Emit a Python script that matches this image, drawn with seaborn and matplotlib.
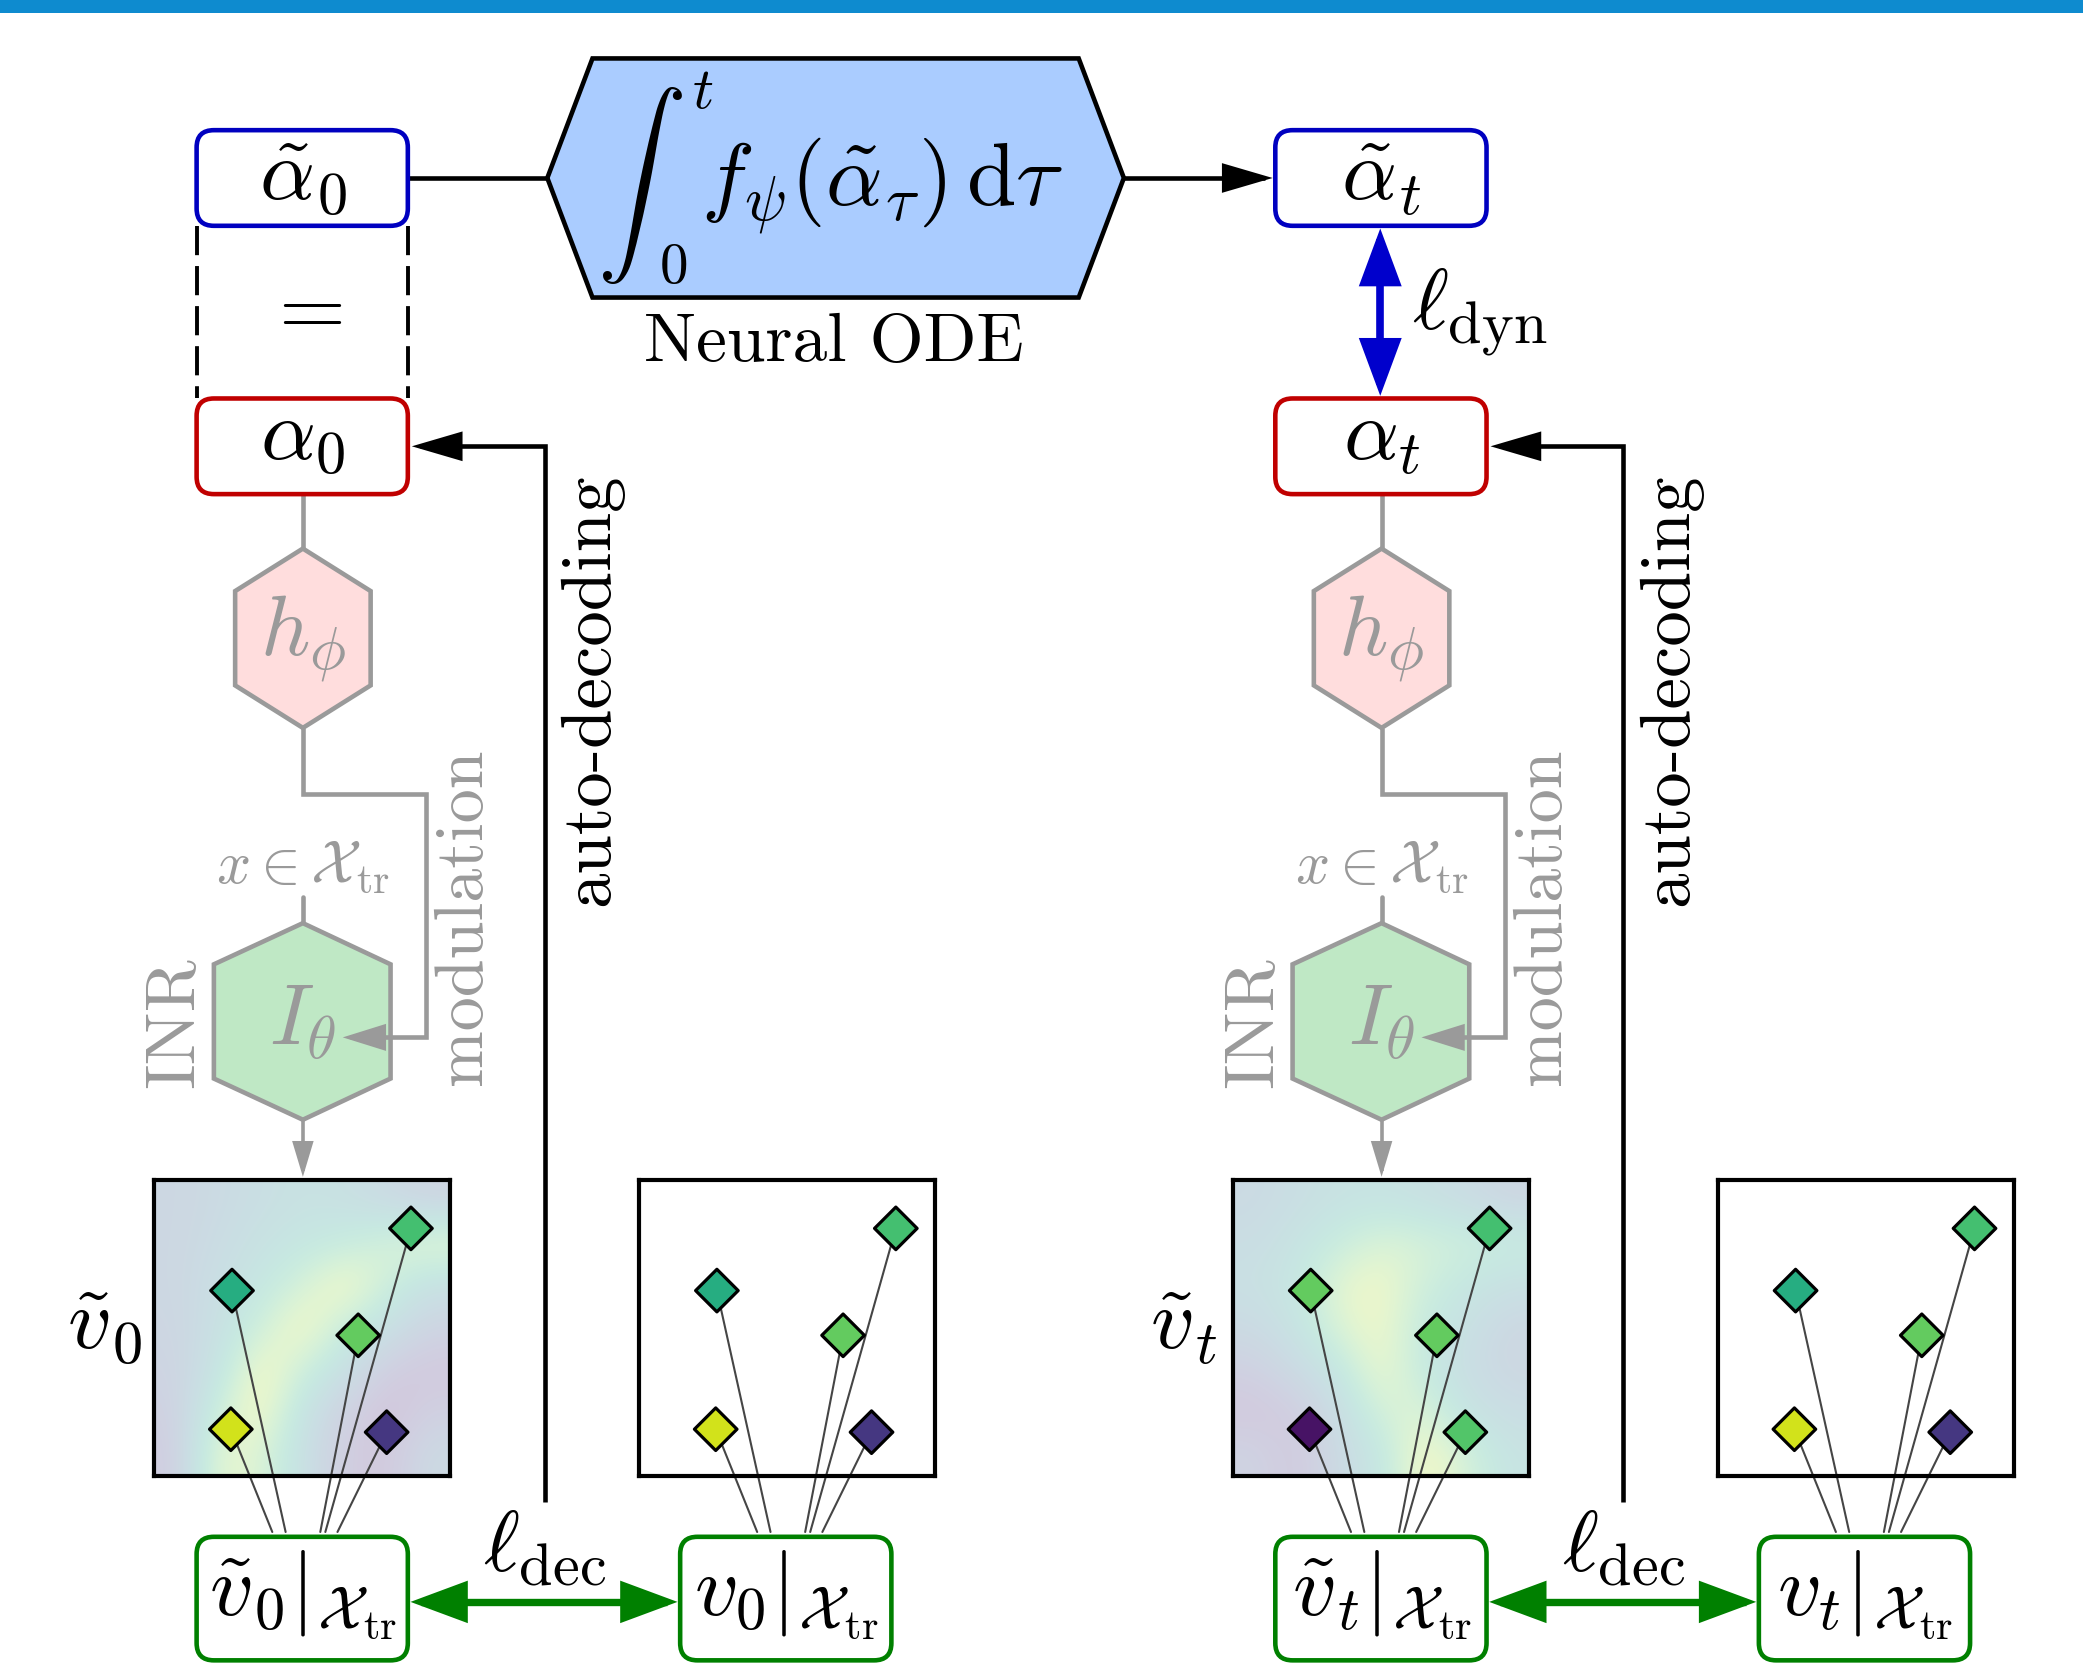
import matplotlib
matplotlib.use('Agg')
import matplotlib.pyplot as plt
from matplotlib.patches import FancyBboxPatch, Polygon, FancyArrowPatch, Rectangle, ArrowStyle
from matplotlib.path import Path
import numpy as np
import pandas as pd
import seaborn as sns

sns.set_theme(style='white')
plt.rcParams['font.family'] = ['cmr10', 'DejaVu Serif']
plt.rcParams['mathtext.fontset'] = 'cm'
plt.rcParams['axes.formatter.use_mathtext'] = True

# --- dati: posizioni dei punti di osservazione e valori (scala viridis 0..1) ---
point_x = [0.263, 0.867, 0.689, 0.259, 0.785]
point_y = [0.625, 0.835, 0.474, 0.157, 0.147]
v0_true = [0.62, 0.70, 0.76, 0.93, 0.16]
v0_pred = [0.62, 0.70, 0.76, 0.93, 0.16]
vt_true = [0.62, 0.70, 0.76, 0.93, 0.16]
vt_pred = [0.76, 0.70, 0.76, 0.05, 0.73]

# campo ricostruito (griglia grossolana, righe dall'alto verso il basso)
field_0 = [[0.30, 0.35, 0.42, 0.48, 0.45, 0.35, 0.25],
           [0.30, 0.38, 0.48, 0.55, 0.62, 0.75, 0.88],
           [0.30, 0.42, 0.55, 0.75, 0.98, 0.70, 0.45],
           [0.28, 0.45, 0.70, 0.98, 0.65, 0.45, 0.25],
           [0.25, 0.50, 0.98, 0.70, 0.45, 0.15, 0.10],
           [0.20, 0.70, 0.98, 0.50, 0.20, 0.05, 0.20],
           [0.15, 0.88, 0.80, 0.45, 0.15, 0.10, 0.35]]
field_t = [[0.35, 0.42, 0.48, 0.50, 0.45, 0.38, 0.28],
           [0.40, 0.50, 0.65, 0.80, 0.75, 0.70, 0.65],
           [0.45, 0.55, 0.85, 0.92, 0.70, 0.55, 0.45],
           [0.35, 0.50, 0.80, 0.92, 0.60, 0.45, 0.30],
           [0.20, 0.35, 0.55, 0.92, 0.60, 0.40, 0.30],
           [0.10, 0.15, 0.40, 0.75, 0.80, 0.50, 0.40],
           [0.25, 0.10, 0.35, 0.55, 0.98, 0.75, 0.50]]

# estremi delle linee sul box sotto il pannello (frazione del pannello)
link_x = [0.444, 0.578, 0.561, 0.399, 0.619]
link_y = -0.19

W, H = 1568, 1252
DX = 812
BIG = 62
LW = 3.3
BLUE, RED, GREEN, GREY = '#0000c0', '#c00000', '#008000', '#9a9a9a'

fig = plt.figure(figsize=(20.83, 16.63), dpi=100)
ax = fig.add_axes([0, 0, 1, 1])
ax.set_xlim(0, W)
ax.set_ylim(H, 0)
ax.axis('off')


def rbox(x, y, w, h, ec, lw=LW):
    ax.add_patch(FancyBboxPatch((x, y), w, h, boxstyle='round,pad=0,rounding_size=13',
                                fc='white', ec=ec, lw=lw, zorder=3))


def arrow(verts, color, lw, hl, hw, style='-|>', z=2):
    codes = [Path.MOVETO] + [Path.LINETO] * (len(verts) - 1)
    ax.add_patch(FancyArrowPatch(path=Path(verts, codes),
                                 arrowstyle=ArrowStyle(style, head_length=hl, head_width=hw),
                                 mutation_scale=1, color=color, lw=lw, zorder=z,
                                 joinstyle='miter', capstyle='butt'))


def put(x, y, s, size=BIG, color='black', ha='center', va='baseline', rot=0):
    ax.text(x, y, s, fontsize=size, color=color, ha=ha, va=va, rotation=rot, zorder=5)


# barra in alto
ax.add_patch(Rectangle((0, 0), W, 9.5, color='#0e8bcf', lw=0, zorder=1))

# --- Neural ODE ---
ax.add_patch(Polygon([(412, 134), (446, 44), (812, 44), (846, 134), (812, 224), (446, 224)],
                     closed=True, fc='#aaccff', ec='black', lw=LW, joinstyle='miter', zorder=2))
put(482, 140, r'$\int$', size=64, va='center')
put(521, 81, r'$t$', size=42, ha='left')
put(507, 213, r'$0$', size=41)
put(528, 155, r'$f_\psi(\tilde{\alpha}_\tau)\,\mathrm{d}\tau$', size=64, ha='left')
put(628, 272, 'Neural ODE', size=50)

ax.plot([307, 412], [134, 134], color='black', lw=LW, zorder=2)
arrow([(846, 134), (958, 134)], 'black', LW, 29, 8.5)

# alpha tilde boxes
rbox(148, 98, 159, 72, BLUE)
put(228, 151, r'$\tilde{\alpha}_0$')
rbox(148 + DX, 98, 159, 72, BLUE)
put(228 + DX, 151, r'$\tilde{\alpha}_t$')

# uguaglianza tratteggiata
for xx in (148, 307):
    ax.plot([xx, xx], [170, 300], color='black', lw=2.8, ls=(0, (7.5, 2.8)), zorder=1)
put(228, 235, r'$=$', va='center')

# l_dyn
arrow([(1039, 172), (1039, 298)], '#0000cc', 5.5, 31, 11.5, style='<|-|>')
put(1063, 248, r'$\ell_{\mathrm{dyn}}$', ha='left')

cols = [('0', v0_pred, v0_true, field_0), ('t', vt_pred, vt_true, field_t)]
for k, (sub, pred, true, field) in enumerate(cols):
    dx = k * DX
    cx = 228 + dx

    rbox(148 + dx, 300, 159, 72, RED)
    put(cx, 346, r'$\alpha_%s$' % sub)

    # auto-decoding
    arrow([(410 + dx, 1131), (410 + dx, 336), (310 + dx, 336)], 'black', LW, 29, 8.5)
    put(445 + dx, 519, 'auto-decoding', size=51, va='center', rot=90)

    # h_phi
    ax.plot([cx, cx], [372, 413], color=GREY, lw=LW, zorder=1)
    ax.add_patch(Polygon([(cx, 413), (cx + 51, 445), (cx + 51, 516), (cx, 548), (cx - 51, 516), (cx - 51, 445)],
                         closed=True, fc='#ffdddd', ec=GREY, lw=LW, joinstyle='miter', zorder=2))
    put(cx, 494, r'$h_\phi$', color=GREY)

    # modulation
    arrow([(cx, 548), (cx, 598), (321 + dx, 598), (321 + dx, 781), (258 + dx, 781)], GREY, LW, 24, 7.5, z=4)
    put(349 + dx, 690, 'modulation', size=49, color=GREY, va='center', rot=90)

    # INR
    put(cx, 665, r'$x \in \mathcal{X}_{\mathrm{tr}}$', size=43, color=GREY)
    ax.plot([cx, cx], [675, 695], color=GREY, lw=LW, zorder=1)
    ax.add_patch(Polygon([(cx, 695), (cx + 66, 726), (cx + 66, 812), (cx, 843), (cx - 67, 812), (cx - 67, 726)],
                         closed=True, fc='#bfe8c5', ec=GREY, lw=LW, joinstyle='miter', zorder=2))
    put(cx, 786, r'$I_\theta$', color=GREY)
    put(132 + dx, 770, 'INR', size=51, color=GREY, va='center', rot=90)
    arrow([(cx, 843), (cx, 886)], GREY, 2.6, 20, 6)

    # etichette
    put(79 + dx, 1016, r'$\tilde{v}_%s$' % sub)
    put(410 + dx, 1183, r'$\ell_{\mathrm{dec}}$')

    # box verdi in basso
    rbox(148 + dx, 1157, 159, 93, GREEN)
    rbox(512 + dx, 1157, 159, 93, GREEN)
    put(cx, 1216, r'$\tilde{v}_%s|_{\mathcal{X}_{\mathrm{tr}}}$' % sub)
    put(592 + dx, 1216, r'$v_%s|_{\mathcal{X}_{\mathrm{tr}}}$' % sub)
    arrow([(309 + dx, 1206), (510 + dx, 1206)], GREEN, 5.3, 31, 11.5, style='<|-|>')

    # pannelli: ricostruzione e verita'
    for px0, vals, bg in [(116 + dx, pred, field), (481 + dx, true, None)]:
        pax = fig.add_axes([px0 / W, 1 - (888 + 223) / H, 223 / W, 223 / H])
        pax.set_xlim(0, 1)
        pax.set_ylim(0, 1)
        if bg is not None:
            pax.imshow(np.array(bg), extent=(0, 1, 0, 1), origin='upper', cmap='viridis',
                       vmin=0, vmax=1, alpha=0.25, interpolation='bicubic', aspect='auto', zorder=0)
        for xi, yi, ex in zip(point_x, point_y, link_x):
            pax.plot([xi, ex], [yi, link_y], color='#454545', lw=1.5, clip_on=False, zorder=2)
        df = pd.DataFrame({'x': point_x, 'y': point_y, 'v': vals})
        sns.scatterplot(data=df, x='x', y='y', hue='v', palette='viridis', hue_norm=(0, 1),
                        marker='D', s=470, edgecolor='black', linewidth=2.3, legend=False,
                        ax=pax, zorder=3, clip_on=False)
        pax.set(xticks=[], yticks=[], xlabel='', ylabel='')
        pax.set_xlim(0, 1)
        pax.set_ylim(0, 1)
        for sp in pax.spines.values():
            sp.set_color('black')
            sp.set_linewidth(3.0)
        pax.set_facecolor('white')

fig.savefig('out.png', dpi=100)
